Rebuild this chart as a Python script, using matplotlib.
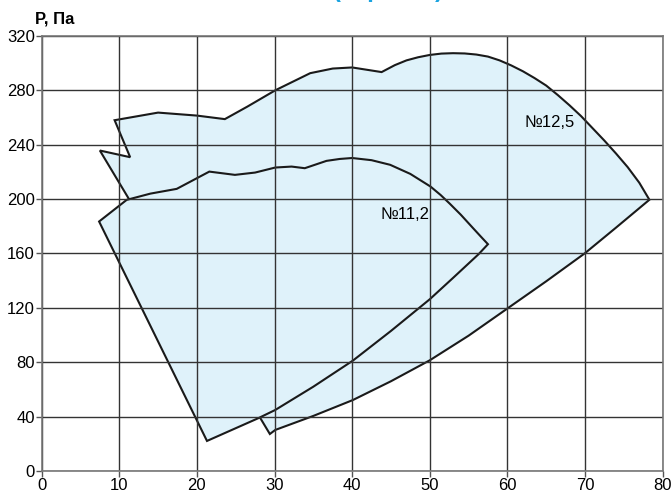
import matplotlib.pyplot as plt
from matplotlib.patches import Polygon

plt.rcParams['font.family'] = ['Liberation Sans Narrow', 'Liberation Sans', 'DejaVu Sans']

# fan №12,5 working area (outline, clockwise from the left notch)
x125 = [7.5, 11.4, 9.4, 15.0, 20.0, 23.6, 26.5, 30.1, 34.6, 37.5, 40.0, 43.8, 45.5, 47.0, 48.5,
        50.0, 51.5, 53.0, 54.5, 56.0, 57.5, 59.0, 60.5, 62.0, 63.5, 65.0, 66.5, 68.0, 69.5, 71.0,
        72.5, 74.0, 75.5, 77.0, 78.3, 74.0, 70.0, 65.0, 60.0, 55.0, 50.0, 45.0, 40.1, 35.0, 30.1,
        29.4]
y125 = [235.7, 230.8, 258.0, 263.6, 261.4, 258.8, 268.0, 280.0, 292.6, 296.0, 296.8, 293.4,
        298.5, 302.0, 304.3, 306.0, 307.0, 307.3, 307.1, 306.3, 304.8, 302.0, 298.3, 294.0, 289.0,
        283.5, 276.5, 269.0, 261.0, 252.0, 243.0, 233.5, 223.5, 212.0, 199.5, 179.0, 160.2, 139.5,
        119.5, 99.5, 81.4, 66.0, 52.2, 40.5, 30.2, 27.2]

# fan №11,2 working area
x112 = [7.4, 10.95, 14.0, 17.4, 21.6, 24.9, 27.5, 30.1, 32.2, 33.9, 36.7, 38.4, 40.0, 42.5, 44.9,
        47.5, 50.1, 51.4, 52.6, 54.0, 55.6, 56.6, 57.5, 56.3, 53.0, 50.0, 45.0, 40.1, 35.0, 30.1,
        27.9, 21.3]
y112 = [183.5, 199.4, 204.0, 207.5, 220.2, 217.8, 219.5, 223.2, 223.9, 222.7, 228.1, 229.5, 230.2,
        228.6, 225.2, 218.5, 209.2, 203.0, 196.5, 188.5, 178.5, 172.3, 166.8, 159.5, 142.0, 126.3,
        103.0, 81.2, 62.0, 44.9, 38.8, 22.1]

xticks = [0, 10, 20, 30, 40, 50, 60, 70, 80]
yticks = [0, 40, 80, 120, 160, 200, 240, 280, 320]

fill = '#dff2fa'

fig = plt.figure(figsize=(6.72, 4.92), dpi=100)
ax = fig.add_axes([0.062, 0.0427, 0.924, 0.8843])

ax.add_patch(Polygon(list(zip(x125, y125)), closed=True, facecolor=fill, edgecolor='#1a1a1a',
                     linewidth=1.5, zorder=1))
ax.add_patch(Polygon(list(zip(x112, y112)), closed=True, facecolor=fill, edgecolor='#1a1a1a',
                     linewidth=1.5, zorder=1.1))

ax.text(65.5, 256, '№12,5', fontsize=12, ha='center', va='center', zorder=3)
ax.text(46.8, 188.5, '№11,2', fontsize=12, ha='center', va='center', zorder=3)

ax.set_xlim(0, 80)
ax.set_ylim(0, 320)
ax.set_xticks(xticks)
ax.set_yticks(yticks)
ax.tick_params(labelsize=12, length=4, width=1, color='#555555', pad=1)
ax.grid(True, color='#333333', linewidth=1)
for s in ax.spines.values():
    s.set_color('#777777')
    s.set_linewidth(1.2)

fig.text(0.052, 0.962, 'Р, Па', fontsize=12, fontweight='bold', ha='left', va='center')
# heading is cut by the top edge in the original, only its lower part shows
fig.text(0.578, 1.019, '(вариант)', fontsize=17, fontweight='bold', color='#1aa3e0',
         ha='center', va='center')

fig.savefig('out.png', dpi=100)
